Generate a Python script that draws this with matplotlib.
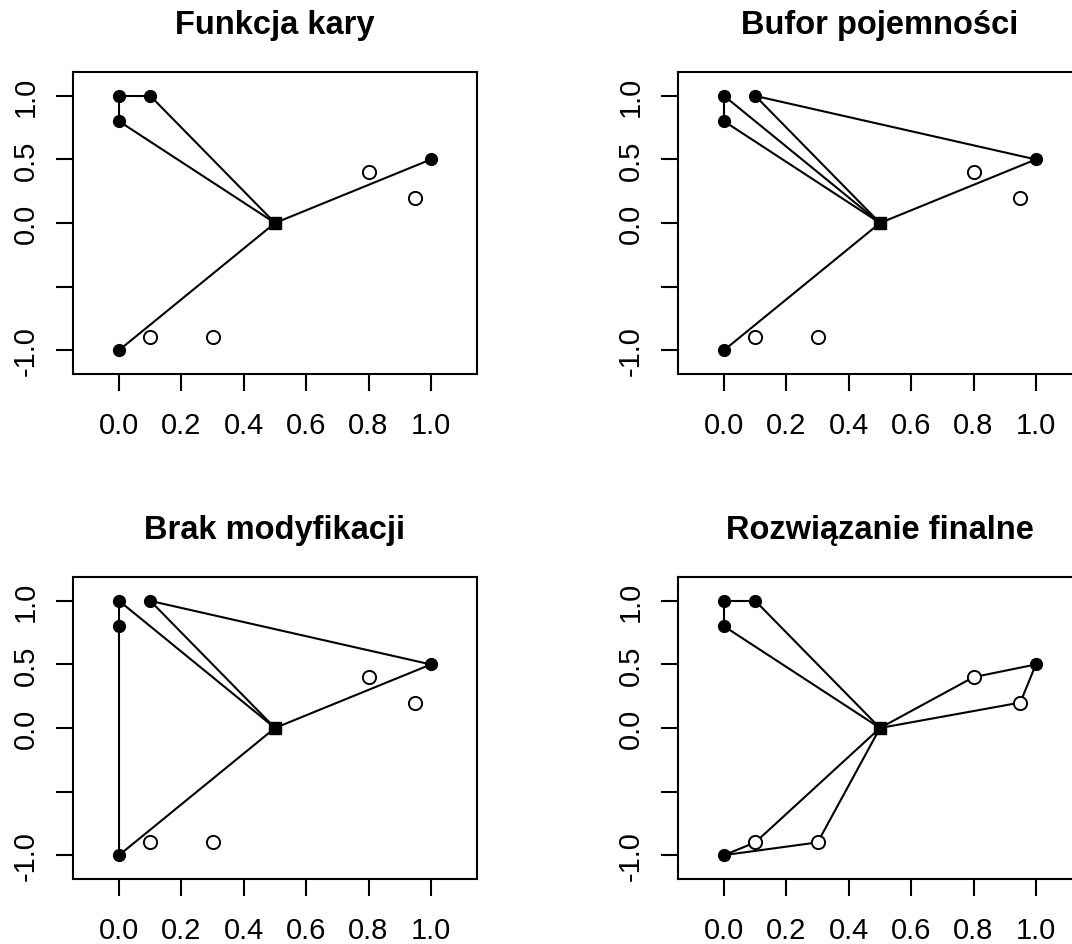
import matplotlib
matplotlib.use("Agg")
import matplotlib.pyplot as plt
from matplotlib.ticker import FixedLocator

plt.rcParams['font.family'] = ['Liberation Sans', 'DejaVu Sans']

# Locations: customers (filled = served on a fixed route, open = optional) and the depot
node_x = [0.0, 0.1, 0.0, 0.0, 1.0, 0.8, 0.95, 0.1, 0.3, 0.5]
node_y = [1.0, 1.0, 0.8, -1.0, 0.5, 0.4, 0.2, -0.9, -0.9, 0.0]
node_kind = ['filled', 'filled', 'filled', 'filled', 'filled',
             'open', 'open', 'open', 'open', 'depot']

titles = ["Funkcja kary", "Bufor pojemności",
          "Brak modyfikacji", "Rozwiązanie finalne"]

# Route edges for each variant (pairs of node indices)
edges_kara = [(0, 1), (0, 2), (1, 9), (2, 9), (9, 4), (9, 3)]
edges_bufor = [(0, 2), (0, 9), (1, 9), (2, 9), (1, 4), (4, 9), (9, 3)]
edges_brak = [(0, 2), (2, 3), (0, 9), (1, 9), (1, 4), (4, 9), (9, 3)]
edges_final = [(0, 1), (0, 2), (1, 9), (2, 9), (9, 5), (5, 4), (4, 6), (6, 9),
               (9, 8), (8, 3), (3, 7), (7, 9)]
all_edges = [edges_kara, edges_bufor, edges_brak, edges_final]

x_ticks = [0.0, 0.2, 0.4, 0.6, 0.8, 1.0]
x_tick_labels = ["0.0", "0.2", "0.4", "0.6", "0.8", "1.0"]
y_ticks = [-1.0, -0.5, 0.0, 0.5, 1.0]
y_tick_labels = ["-1.0", "", "0.0", "0.5", "1.0"]

W, H = 1072, 945
fig = plt.figure(figsize=(W / 100, H / 100), dpi=100)

lefts = [73, 678]
tops = [73, 578]
box_w, box_h = 404, 302

lw = 1.5
for i, (title, edges) in enumerate(zip(titles, all_edges)):
    r, c = divmod(i, 2)
    left = lefts[c]
    top = tops[r]
    ax = fig.add_axes([left / W, 1 - (top + box_h) / H, box_w / W, box_h / H])
    ax.set_xlim(-0.148, 1.148)
    ax.set_ylim(-1.188, 1.188)

    for a, b in edges:
        ax.plot([node_x[a], node_x[b]], [node_y[a], node_y[b]],
                color='black', lw=lw, zorder=2, solid_capstyle='butt')

    fx = [x for x, k in zip(node_x, node_kind) if k == 'filled']
    fy = [y for y, k in zip(node_y, node_kind) if k == 'filled']
    ox = [x for x, k in zip(node_x, node_kind) if k == 'open']
    oy = [y for y, k in zip(node_y, node_kind) if k == 'open']
    dx = [x for x, k in zip(node_x, node_kind) if k == 'depot']
    dy = [y for y, k in zip(node_y, node_kind) if k == 'depot']

    ax.plot(fx, fy, 'o', ms=8.5, color='black', mec='black', zorder=3)
    ax.plot(ox, oy, 'o', ms=9.5, mfc='white', mec='black', mew=1.4, zorder=3)
    ax.plot(dx, dy, 's', ms=8.5, color='black', zorder=3)

    ax.xaxis.set_major_locator(FixedLocator(x_ticks))
    ax.set_xticklabels(x_tick_labels)
    ax.yaxis.set_major_locator(FixedLocator(y_ticks))
    ax.set_yticklabels(y_tick_labels, rotation=90, va='center')

    ax.tick_params(axis='both', length=12, width=lw, labelsize=21,
                   direction='out', color='black')
    ax.tick_params(axis='x', pad=15)
    ax.tick_params(axis='y', pad=12)
    for s in ax.spines.values():
        s.set_linewidth(lw)

    ax.set_title(title, fontsize=23.5, fontweight='bold', pad=28)

fig.savefig("out.png", dpi=100, facecolor='white')
